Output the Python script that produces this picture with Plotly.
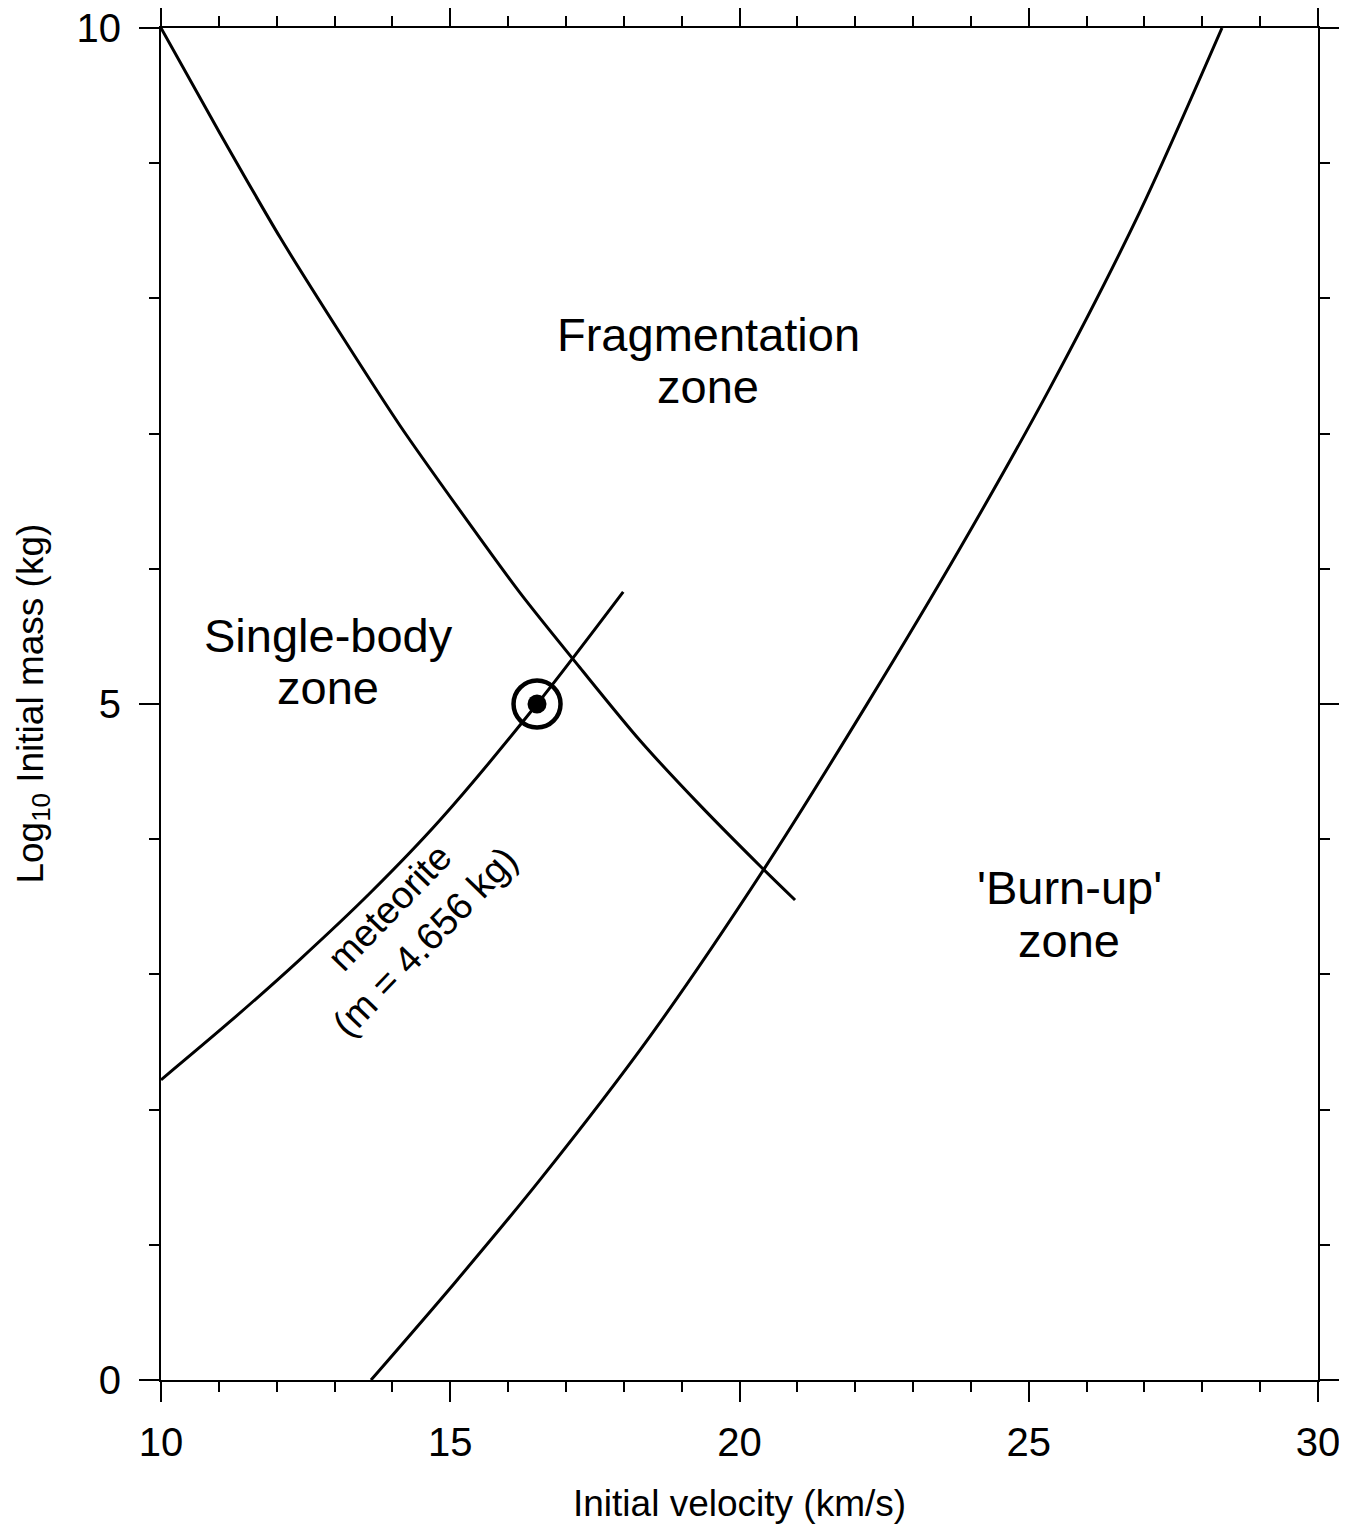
import plotly.graph_objects as go

# Fragmentation / single-body boundary
frag_v = [10.0, 11.02, 12.06, 13.10, 14.13, 15.17, 16.21, 17.24, 18.28, 19.32, 20.36, 20.96]
frag_m = [10.0, 9.22, 8.45, 7.74, 7.06, 6.43, 5.82, 5.27, 4.73, 4.25, 3.80, 3.55]

# Burn-up boundary
burn_v = [13.63, 15.08, 16.55, 18.45, 20.44, 22.22, 23.81, 25.37, 26.92, 28.34]
burn_m = [0.0, 0.72, 1.48, 2.54, 3.79, 5.01, 6.15, 7.34, 8.64, 10.0]

# Meteorite curve (m = 4.656 kg)
met_v = [10.0, 11.19, 12.40, 13.61, 14.82, 16.5, 17.99]
met_m = [2.22, 2.65, 3.11, 3.60, 4.14, 5.0, 5.83]

# Observed point
obs_v = [16.5]
obs_m = [5.0]

x_ticks = [10, 15, 20, 25, 30]
y_ticks = [0, 5, 10]

FONT = "Liberation Sans, Arial, Helvetica, sans-serif"

fig = go.Figure()
line_style = dict(color="black", width=3, shape="spline", smoothing=0.8)
for xs, ys in [(frag_v, frag_m), (burn_v, burn_m), (met_v, met_m)]:
    fig.add_trace(go.Scatter(x=xs, y=ys, mode="lines", line=line_style, hoverinfo="skip"))
fig.add_trace(go.Scatter(x=obs_v, y=obs_m, mode="markers",
                         marker=dict(symbol="circle-open", size=47, color="black",
                                     line=dict(width=4.5, color="black")),
                         hoverinfo="skip"))
fig.add_trace(go.Scatter(x=obs_v, y=obs_m, mode="markers",
                         marker=dict(symbol="circle", size=19, color="black"),
                         hoverinfo="skip"))

zone_font = dict(family=FONT, size=47, color="black")
zone_labels = [
    (19.46, 7.73, "Fragmentation"), (19.46, 7.35, "zone"),
    (12.89, 5.51, "Single-body"), (12.89, 5.12, "zone"),
    (25.70, 3.64, "'Burn-up'"), (25.70, 3.25, "zone"),
]
for x, y, t in zone_labels:
    fig.add_annotation(x=x, y=y, text=t, showarrow=False, font=zone_font)

fig.add_annotation(x=14.25, y=3.37, text="meteorite<br>(m = 4.656 kg)", textangle=-46,
                   showarrow=False, font=dict(family=FONT, size=38, color="black"))

# axis titles
title_font = dict(family=FONT, size=37, color="black")
fig.add_annotation(xref="paper", yref="paper", x=0.5, y=-0.091, yanchor="middle",
                   text="Initial velocity (km/s)", showarrow=False, font=title_font)
fig.add_annotation(xref="paper", yref="paper", x=-0.111, y=0.5, xanchor="center", yanchor="middle",
                   text="Log<sub>10</sub> Initial mass (kg)", textangle=-90,
                   showarrow=False, font=title_font)

axis_common = dict(showline=True, linecolor="black", linewidth=2, mirror="allticks",
                   ticks="outside", ticklen=20, tickwidth=2, tickcolor="black",
                   showgrid=False, zeroline=False, automargin=False,
                   ticklabeloverflow="allow",
                   tickfont=dict(family=FONT, size=40, color="black"))
minor = dict(ticks="outside", dtick=1, ticklen=10, tickwidth=2, tickcolor="black", showgrid=False)

fig.update_xaxes(range=[10, 30], tickvals=x_ticks, ticktext=[str(v) for v in x_ticks],
                 minor=minor, ticklabelstandoff=6, **axis_common)
fig.update_yaxes(range=[0, 10], tickvals=y_ticks, ticktext=[str(v) for v in y_ticks],
                 minor=minor, ticklabelstandoff=10, **axis_common)

# page body has an 8px default margin, so the figure is sized to fit inside the window
fig.update_layout(width=1339, height=1516, showlegend=False,
                  plot_bgcolor="white", paper_bgcolor="white",
                  margin=dict(l=153, r=29, t=20, b=144))

fig.write_html("out.html")
